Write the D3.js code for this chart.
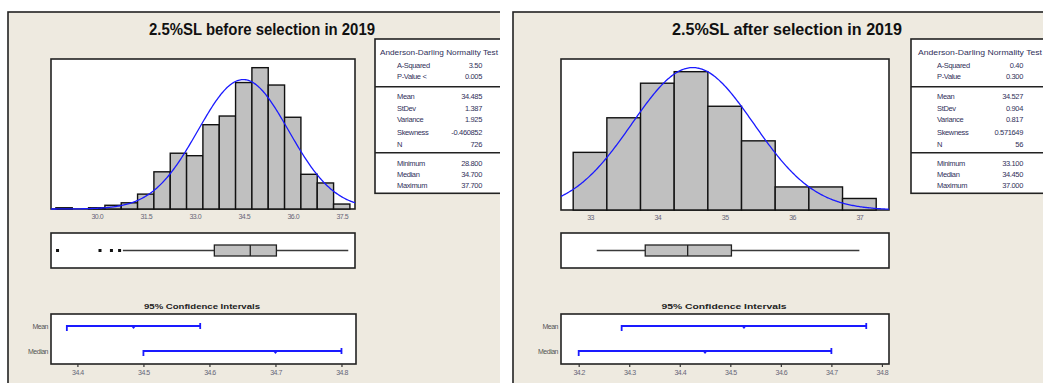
<!DOCTYPE html>
<html><head><meta charset="utf-8">
<script src="https://cdn.jsdelivr.net/npm/d3@7/dist/d3.min.js"></script>
<style>
body{margin:0;background:#fff}
svg{display:block}
text{font-family:"Liberation Sans",Arial,sans-serif}
</style>
</head><body>
<svg id="c" width="1043" height="383"></svg>
<script>
// ---------- data ----------
const beforeBins = [29.0,29.5,30.0,30.5,31.0,31.5,32.0,32.5,33.0,33.5,34.0,34.5,35.0,35.5,36.0,36.5,37.0,37.5];
const beforeCounts = [1,0,1,3,5,12,30,45,43,68,75,102,114,100,74,28,21,4];
const afterBins = [33.0,33.5,34.0,34.5,35.0,35.5,36.0,36.5,37.0];
const afterCounts = [5,8,11,12,9,6,2,2,1];
const binWidth = 0.5;
const beforeTicks = [30.0,31.5,33.0,34.5,36.0,37.5];
const afterTicks = [33,34,35,36,37];
// box: [q1, median, q3, whiskerLow, whiskerHigh]
const beforeBox = [33.6,34.7,35.5,30.8,37.7];
const beforeOutliers = [28.8,30.1,30.45,30.7];
const afterBox = [33.82,34.45,35.1,33.1,37.0];
const afterOutliers = [];
// CI: [low, point, high]
const beforeMeanCI = [34.384,34.485,34.586];
const beforeMedianCI = [34.5,34.7,34.8];
const afterMeanCI = [34.285,34.527,34.769];
const afterMedianCI = [34.2,34.45,34.7];
const beforeCITicks = [34.4,34.5,34.6,34.7,34.8];
const afterCITicks = [34.2,34.3,34.4,34.5,34.6,34.7,34.8];
const ciRows = ["Mean","Median"];
const beforeStatLabels = ["A-Squared","P-Value <","Mean","StDev","Variance","Skewness","N","Minimum","Median","Maximum"];
const afterStatLabels = ["A-Squared","P-Value","Mean","StDev","Variance","Skewness","N","Minimum","Median","Maximum"];
const beforeStats = ["3.50","0.005","34.485","1.387","1.925","-0.460852","726","28.800","34.700","37.700"];
const afterStats = ["0.40","0.300","34.527","0.904","0.817","0.571649","56","33.100","34.450","37.000"];
const beforeMean = 34.485, beforeSd = 1.387, beforeN = 726;
const afterMean = 34.527, afterSd = 0.904, afterN = 56;
const titles = ["2.5%SL before selection in 2019","2.5%SL after selection in 2019"];
const ciTitle = "95% Confidence Intervals";
const statHeader = "Anderson-Darling Normality Test";

// ---------- drawing ----------
const svg = d3.select("#c");
const BG = "#EEEAE0", DARK = "#222", TXT = "#30305a", BLUE = "#1a1aff";

const panels = [
  {x0:8, x1:500, title:titles[0], titleX:262, titleW:226,
   bins:beforeBins, counts:beforeCounts, ticks:beforeTicks, tickFmt:d3.format(".1f"),
   xDom:[28.6,37.906], xR:[51,355], yMax:121, mean:beforeMean, sd:beforeSd, n:beforeN,
   box:beforeBox, outliers:beforeOutliers,
   meanCI:beforeMeanCI, medianCI:beforeMedianCI, ciTicks:beforeCITicks, ciDom:[34.36,34.822], ciR:[51,356],
   ciTitleX:202, ciTitleW:116,
   statX:375, statLabels:beforeStatLabels, stats:beforeStats, hdrX:380, hdrW:118, labX:397, valX:482},
  {x0:513, x1:1043, title:titles[1], titleX:787, titleW:230,
   bins:afterBins, counts:afterCounts, ticks:afterTicks, tickFmt:d3.format("d"),
   xDom:[32.569,37.44], xR:[561,889], yMax:13.1, mean:afterMean, sd:afterSd, n:afterN,
   box:afterBox, outliers:afterOutliers,
   meanCI:afterMeanCI, medianCI:afterMedianCI, ciTicks:afterCITicks, ciDom:[34.165,34.814], ciR:[561,889],
   ciTitleX:724, ciTitleW:125,
   statX:911, statLabels:afterStatLabels, stats:afterStats, hdrX:918, hdrW:124, labX:937, valX:1023}
];

panels.forEach((p, pi) => {
  const clipId = "clip" + pi;
  svg.append("clipPath").attr("id", clipId).append("rect")
    .attr("x", p.x0 - 1).attr("y", 0).attr("width", p.x1 - p.x0 + 1).attr("height", 383);
  const g = svg.append("g").attr("clip-path", `url(#${clipId})`);

  // panel background and border
  g.append("rect").attr("x", p.x0).attr("y", 12).attr("width", p.x1 - p.x0 + 10).attr("height", 400)
    .attr("fill", BG).attr("stroke", DARK).attr("stroke-width", 1.6);

  // title
  g.append("text").attr("x", p.titleX).attr("y", 35).attr("text-anchor", "middle")
    .attr("font-size", 16).attr("font-weight", "bold").attr("fill", "#111")
    .attr("textLength", p.titleW).attr("lengthAdjust", "spacingAndGlyphs")
    .text(p.title);

  // ---- histogram ----
  const x = d3.scaleLinear().domain(p.xDom).range(p.xR);
  const yTop = 59, yBase = pi === 0 ? 209 : 210;
  const y = d3.scaleLinear().domain([0, p.yMax]).range([yBase, yTop]);
  g.append("rect").attr("x", p.xR[0]).attr("y", yTop).attr("width", p.xR[1] - p.xR[0]).attr("height", yBase - yTop)
    .attr("fill", "#fff").attr("stroke", DARK).attr("stroke-width", 1.6);
  const hist = g.append("g");
  hist.selectAll("rect").data(p.bins.map((b, i) => ({b, c: p.counts[i]}))).join("rect")
    .attr("x", d => x(d.b - binWidth / 2))
    .attr("width", d => x(d.b + binWidth / 2) - x(d.b - binWidth / 2))
    .attr("y", d => y(d.c))
    .attr("height", d => yBase - y(d.c))
    .attr("fill", "#c0c0c0").attr("stroke", "#111").attr("stroke-width", 1.4);
  // normal curve (fit from mean & sd)
  const pts = d3.range(0, 301).map(i => p.xDom[0] + (p.xDom[1] - p.xDom[0]) * i / 300);
  const pdf = v => Math.exp(-0.5 * ((v - p.mean) / p.sd) ** 2) / (p.sd * Math.sqrt(2 * Math.PI));
  g.append("path").datum(pts)
    .attr("d", d3.line().x(v => x(v)).y(v => Math.min(yBase, y(p.n * binWidth * pdf(v)))))
    .attr("fill", "none").attr("stroke", BLUE).attr("stroke-width", 1.3);
  const ax = g.append("g").attr("transform", `translate(0,${yBase})`)
    .call(d3.axisBottom(x).tickValues(p.ticks).tickFormat(p.tickFmt).tickSize(0).tickPadding(5));
  ax.select(".domain").remove();
  ax.selectAll("text").attr("font-size", 7).attr("fill", "#667").attr("letter-spacing", -0.5)
    .attr("font-family", "Liberation Sans, Arial, sans-serif");

  // ---- boxplot ----
  const bTop = 233, bBot = 268, bc = 250.5;
  g.append("rect").attr("x", p.xR[0]).attr("y", bTop).attr("width", p.xR[1] - p.xR[0]).attr("height", bBot - bTop)
    .attr("fill", "#fff").attr("stroke", DARK).attr("stroke-width", 1.6);
  const [q1, med, q3, wl, wh] = p.box;
  g.append("line").attr("x1", x(wl)).attr("x2", x(q1)).attr("y1", bc).attr("y2", bc)
    .attr("stroke", "#3a3a3a").attr("stroke-width", 1.5);
  g.append("line").attr("x1", x(q3)).attr("x2", x(wh)).attr("y1", bc).attr("y2", bc)
    .attr("stroke", "#3a3a3a").attr("stroke-width", 1.5);
  g.append("rect").attr("x", x(q1)).attr("y", bc - 5.5).attr("width", x(q3) - x(q1)).attr("height", 11)
    .attr("fill", "#c0c0c0").attr("stroke", "#222").attr("stroke-width", 1.3);
  g.append("line").attr("x1", x(med)).attr("x2", x(med)).attr("y1", bc - 5.5).attr("y2", bc + 5.5)
    .attr("stroke", "#222").attr("stroke-width", 1.3);
  g.selectAll(".out").data(p.outliers).join("rect").attr("class", "out")
    .attr("x", d => x(d) - 1.5).attr("y", bc - 1.5).attr("width", 3).attr("height", 3).attr("fill", "#111");

  // ---- CI panel ----
  const cx = d3.scaleLinear().domain(p.ciDom).range(p.ciR);
  const cy = d3.scalePoint().domain(ciRows).range([326, 351]);
  const cTop = 314, cBot = 364;
  g.append("text").attr("x", p.ciTitleX).attr("y", 309).attr("text-anchor", "middle")
    .attr("font-size", 8).attr("font-weight", "bold").attr("fill", "#222")
    .attr("textLength", p.ciTitleW).attr("lengthAdjust", "spacingAndGlyphs").text(ciTitle);
  g.append("rect").attr("x", p.ciR[0]).attr("y", cTop).attr("width", p.ciR[1] - p.ciR[0]).attr("height", cBot - cTop)
    .attr("fill", "#fff").attr("stroke", DARK).attr("stroke-width", 1.6);
  const cax = g.append("g").attr("transform", `translate(0,${cBot})`)
    .call(d3.axisBottom(cx).tickValues(p.ciTicks).tickFormat(d3.format(".1f")).tickSize(3).tickPadding(3));
  cax.select(".domain").remove();
  cax.selectAll("line").attr("stroke", "#333").attr("stroke-width", 1.2);
  cax.selectAll("text").attr("font-size", 7).attr("fill", "#667").attr("letter-spacing", -0.5)
    .attr("font-family", "Liberation Sans, Arial, sans-serif");
  g.selectAll(".rowlab").data(ciRows).join("text").attr("class", "rowlab")
    .attr("x", p.ciR[0] - 3).attr("y", d => cy(d) + 2.5).attr("text-anchor", "end")
    .attr("font-size", 7).attr("fill", "#555").attr("letter-spacing", -0.5).text(d => d);
  const ciData = [{row: "Mean", v: p.meanCI}, {row: "Median", v: p.medianCI}];
  ciData.forEach(d => {
    const yy = cy(d.row);
    const cg = g.append("g").attr("stroke", BLUE).attr("stroke-width", 1.8);
    cg.append("line").attr("x1", cx(d.v[0])).attr("x2", cx(d.v[2])).attr("y1", yy).attr("y2", yy);
    cg.append("line").attr("x1", cx(d.v[0])).attr("x2", cx(d.v[0])).attr("y1", yy - 1).attr("y2", yy + 5);
    cg.append("line").attr("x1", cx(d.v[2])).attr("x2", cx(d.v[2])).attr("y1", yy - 3).attr("y2", yy + 3);
    g.append("path").attr("d", `M${cx(d.v[1]) - 2.5},${yy}L${cx(d.v[1]) + 2.5},${yy}L${cx(d.v[1])},${yy + 3}Z`)
      .attr("fill", BLUE);
  });

  // ---- stats box ----
  g.append("rect").attr("x", p.statX).attr("y", 39).attr("width", 200).attr("height", 193.3 - 39)
    .attr("fill", "#fff").attr("stroke", DARK).attr("stroke-width", 1.6);
  [86.7, 152.7].forEach(yy => g.append("line").attr("x1", p.statX).attr("x2", p.statX + 200)
    .attr("y1", yy).attr("y2", yy).attr("stroke", DARK).attr("stroke-width", 1.6));
  g.append("text").attr("x", p.hdrX).attr("y", 55).attr("font-size", 7.5).attr("fill", TXT)
    .attr("textLength", p.hdrW).attr("lengthAdjust", "spacingAndGlyphs").text(statHeader);
  const rowY = [65.7, 76.7, 96.7, 108.7, 119.5, 132, 144, 163.3, 174.5, 185];
  const sg = g.append("g").attr("font-size", 7.5).attr("fill", TXT).attr("letter-spacing", -0.35);
  sg.selectAll(".sl").data(p.statLabels).join("text").attr("class", "sl")
    .attr("x", p.labX).attr("y", (d, i) => rowY[i] + 2.6).text(d => d);
  sg.selectAll(".sv").data(p.stats).join("text").attr("class", "sv")
    .attr("x", p.valX).attr("y", (d, i) => rowY[i] + 2.6).attr("text-anchor", "end").text(d => d);
});
</script>
</body></html>
